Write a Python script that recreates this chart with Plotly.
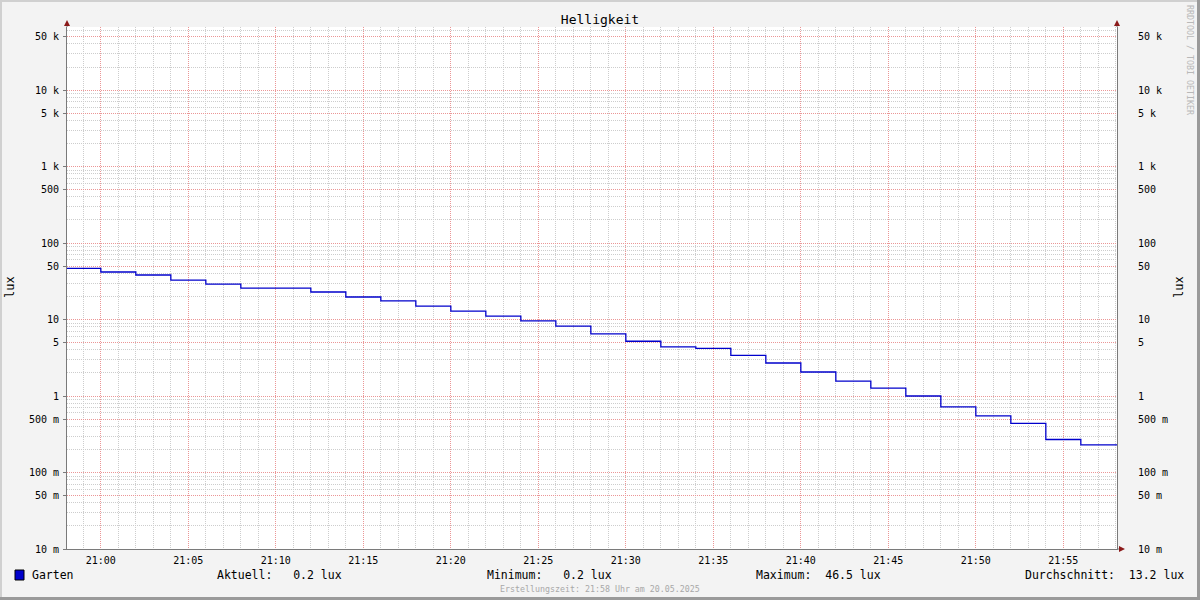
import plotly.graph_objects as go

# ---------------- data ----------------
day = "2025-05-20"
start_time = "20:58:04"
end_time = "21:58:04"
step_times = ["20:58:04", "21:00", "21:02", "21:04", "21:06", "21:08", "21:12", "21:14",
              "21:16", "21:18", "21:20", "21:22", "21:24", "21:26", "21:28", "21:30",
              "21:32", "21:34", "21:36", "21:38", "21:40", "21:42", "21:44", "21:46",
              "21:48", "21:50", "21:52", "21:54", "21:56"]
lux_values = [46.5, 41.8, 38.2, 32.8, 29.1, 25.8, 22.9, 19.7, 17.5, 15.0, 12.9, 11.1,
              9.6, 8.2, 6.5, 5.2, 4.4, 4.2, 3.4, 2.7, 2.06, 1.57, 1.27, 1.0, 0.72,
              0.55, 0.44, 0.27, 0.23]
series_name = "Garten"
unit = "lux"
x_tick_labels = ["21:00", "21:05", "21:10", "21:15", "21:20", "21:25",
                 "21:30", "21:35", "21:40", "21:45", "21:50", "21:55"]
y_tick_vals = [0.01, 0.05, 0.1, 0.5, 1, 5, 10, 50, 100, 500, 1000, 5000, 10000, 50000]
y_tick_text = ["10 m", "50 m", "100 m", "500 m", "1", "5", "10", "50", "100", "500",
               "1 k", "5 k", "10 k", "50 k"]
stat_labels = ["Aktuell:", "Minimum:", "Maximum:", "Durchschnitt:"]
stat_values = ["0.2", "0.2", "46.5", "13.2"]
title = "Helligkeit"
footer = "Erstellungszeit: 21:58 Uhr am 20.05.2025"
watermark = "RRDTOOL / TOBI OETIKER"

# ---------------- build ----------------
x = [f"{day} {t}" for t in step_times] + [f"{day} {end_time}"]
y = lux_values + [lux_values[-1]]

x_major = [f"{day} {t}" for t in x_tick_labels]
x_minor = [f"{day} {h:02d}:{m:02d}" for h, m in
           [(20, 59)] + [(21, mm) for mm in range(0, 59)]]
x_minor = [v for v in x_minor if v not in x_major]
y_minor = [k * 10 ** e for e in range(-2, 5) for k in (2, 3, 4, 6, 7, 8, 9)]
y_minor = [v for v in y_minor if v < 66000]

FONT = "DejaVu Sans Mono"
LINE = "#0000CC"
AXIS = "#7a7a7a"
MAJ = "rgb(235,150,150)"
MIN = "rgb(205,205,205)"
DASH = "1px,1px"

L, R, T, B = 67, 83, 27, 51
PW, PH = 1200 - L - R, 600 - T - B


def px(xp):
    return (xp - L) / PW


def py(yp):
    return (600 - B - yp) / PH


fig = go.Figure()
fig.add_trace(go.Scatter(x=x, y=y, mode="lines", line=dict(color=LINE, width=1.3, shape="hv"),
                         showlegend=False, hoverinfo="skip"))
fig.add_trace(go.Scatter(x=x, y=y, mode="lines", line=dict(color="rgba(0,0,0,0)", width=0),
                         yaxis="y2", showlegend=False, hoverinfo="skip"))

yaxis_common = dict(
    type="log", range=[-2, 4.824], tickmode="array", tickvals=y_tick_vals,
    ticktext=y_tick_text, tickfont=dict(family=FONT, size=10, color="#000"),
    showline=True, linecolor=AXIS, linewidth=1, zeroline=False,
)

fig.update_layout(
    width=1200, height=600,
    margin=dict(l=L, r=R, t=T, b=B),
    paper_bgcolor="#F3F3F3", plot_bgcolor="#FFFFFF",
    title=dict(text=title, x=0.5, xref="container", xanchor="center",
               y=1 - 19 / 600, yref="container", yanchor="middle",
               font=dict(family=FONT, size=13, color="#000")),
    xaxis=dict(
        type="date", range=[f"{day} {start_time}", f"{day} {end_time}"],
        tickmode="array", tickvals=x_major, ticktext=x_tick_labels,
        tickfont=dict(family=FONT, size=10, color="#000"),
        showgrid=True, gridcolor=MAJ, griddash=DASH, gridwidth=1,
        minor=dict(tickmode="array", tickvals=x_minor, showgrid=True,
                   gridcolor=MIN, griddash=DASH, gridwidth=1),
        showline=True, linecolor=AXIS, linewidth=1, zeroline=False,
        ticks="", ticklabelstandoff=2,
    ),
    yaxis=dict(
        **yaxis_common, side="left",
        showgrid=True, gridcolor=MAJ, griddash=DASH, gridwidth=1,
        minor=dict(tickmode="array", tickvals=y_minor, showgrid=True,
                   gridcolor=MIN, griddash=DASH, gridwidth=1),
        ticks="outside", ticklen=3, tickcolor=AXIS, ticklabelstandoff=2,
    ),
    yaxis2=dict(
        **yaxis_common, side="right", overlaying="y", showgrid=False,
        ticks="", ticklabelstandoff=18,
    ),
    showlegend=False,
)

shapes = []
ARROW = "#8B1A1A"
for ax_x in (L, 1200 - R):
    shapes.append(dict(type="line", xref="paper", yref="paper",
                       x0=px(ax_x), x1=px(ax_x), y0=py(T), y1=py(23),
                       line=dict(color=AXIS, width=1)))
    shapes.append(dict(type="path", xref="paper", yref="paper",
                       path=f"M {px(ax_x-3)},{py(26)} L {px(ax_x+3)},{py(26)} L {px(ax_x)},{py(20)} Z",
                       fillcolor=ARROW, line=dict(color=ARROW, width=0)))
xa_end = 1200 - R
shapes.append(dict(type="line", xref="paper", yref="paper",
                   x0=px(xa_end), x1=px(xa_end + 3), y0=py(549), y1=py(549),
                   line=dict(color=AXIS, width=1)))
shapes.append(dict(type="path", xref="paper", yref="paper",
                   path=f"M {px(xa_end+2)},{py(546)} L {px(xa_end+2)},{py(552)} L {px(xa_end+8)},{py(549)} Z",
                   fillcolor=ARROW, line=dict(color=ARROW, width=0)))
shapes.append(dict(type="rect", xref="paper", yref="paper",
                   x0=px(15), x1=px(24), y0=py(570), y1=py(580),
                   fillcolor=LINE, line=dict(color="#000", width=1)))
shapes.append(dict(type="line", xref="paper", yref="paper", x0=px(0), x1=px(1200),
                   y0=py(1), y1=py(1), line=dict(color="#D0D0D0", width=2)))
shapes.append(dict(type="line", xref="paper", yref="paper", x0=px(1), x1=px(1),
                   y0=py(0), y1=py(600), line=dict(color="#D0D0D0", width=2)))
shapes.append(dict(type="line", xref="paper", yref="paper", x0=px(0), x1=px(1200),
                   y0=py(598.5), y1=py(598.5), line=dict(color="#9A9A9A", width=3)))
shapes.append(dict(type="line", xref="paper", yref="paper", x0=px(1198.5), x1=px(1198.5),
                   y0=py(0), y1=py(600), line=dict(color="#9A9A9A", width=3)))
fig.update_layout(shapes=shapes)

NB = "\u00a0"
ann = []
ann.append(dict(text=series_name, x=px(30), y=py(575), xref="paper", yref="paper",
                xanchor="left", yanchor="middle", showarrow=False,
                font=dict(family=FONT, size=11.5, color="#000")))
stat_x = [215, 485, 754, 1023]
for lbl, val, sx in zip(stat_labels, stat_values, stat_x):
    txt = (lbl + val.rjust(6) + " " + unit).replace(" ", NB)
    ann.append(dict(text=txt, x=px(sx), y=py(575), xref="paper", yref="paper",
                    xanchor="left", yanchor="middle", showarrow=False,
                    font=dict(family=FONT, size=11.5, color="#000")))
ann.append(dict(text=footer, x=px(600), y=py(589), xref="paper", yref="paper",
                xanchor="center", yanchor="middle", showarrow=False,
                font=dict(family=FONT, size=8.3, color="#A8A8A8")))
ann.append(dict(text=watermark, x=px(1190), y=py(60), xref="paper", yref="paper",
                xanchor="center", yanchor="middle", showarrow=False, textangle=90,
                font=dict(family=FONT, size=8.3, color="#B8B8B8")))
for axx in (10, 1179):
    ann.append(dict(text=unit, x=px(axx), y=py(287), xref="paper", yref="paper",
                    xanchor="center", yanchor="middle", showarrow=False, textangle=-90,
                    font=dict(family=FONT, size=12, color="#000")))
fig.update_layout(annotations=ann)

fig.write_html("out.html", config={"displayModeBar": False},
               post_script="document.body.style.margin='0';document.body.style.overflow='hidden';")
